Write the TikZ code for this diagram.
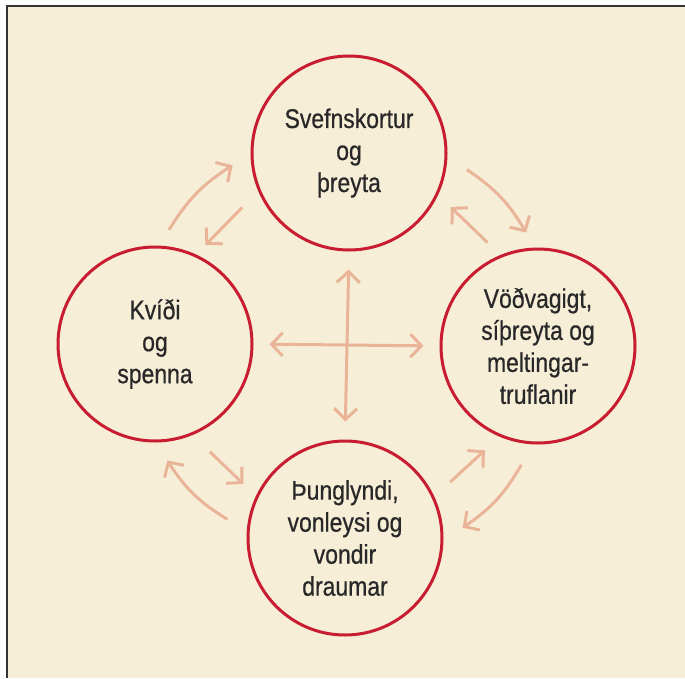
\documentclass[tikz,border=0pt]{standalone}
\usepackage{fontspec}
\setmainfont{Liberation Sans}[FakeStretch=0.85,FakeBold=0.6]
\usetikzlibrary{arrows.meta}
\usetikzlibrary{calc}
\definecolor{pagebg}{RGB}{247,238,216}
\definecolor{ringred}{RGB}{200,28,48}
\definecolor{arrowc}{RGB}{234,180,152}
\definecolor{textc}{RGB}{40,40,40}

\begin{document}
\begin{tikzpicture}[x=1pt,y=-1pt,
    >={Straight Barb[length=11pt,width=23pt]},
    ring/.style={circle,draw=ringred,line width=3pt,minimum size=194pt,
      inner sep=0pt,align=center,text=textc,
      font=\fontsize{27}{32}\selectfont},
    arr/.style={draw=arrowc,line width=3pt,->}]
    \useasboundingbox (0,0) rectangle (685,678);
    % Background
    \fill[white] (0,0) rectangle (685,678);
    \fill[pagebg] (7,6) rectangle (685,678);
    \draw[line width=2pt,black!80] (7,678) -- (7,6) -- (685,6);
    % Circles
    \node[ring] (S) at (349,153) {Svefnskortur\\og\\þreyta};
    \node[ring] (K) at (155,344) {Kvíði\\og\\spenna};
    \node[ring] (V) at (538,346) {Vöðvagigt,\\síþreyta og\\meltingar-\\truflanir};
    \node[ring] (P) at (345,538) {Þunglyndi,\\vonleysi og\\vondir\\draumar};
    % Outer arrows
    \draw[arr] ($(K)+(83:115pt)$) to[bend left=13] ($(S)+(186:117pt)$);
    \draw[arr] ($(S)+(352:119pt)$) to[bend left=13] ($(V)+(96:114pt)$);
    \draw[arr] ($(V)+(262:120pt)$) to[bend left=13] ($(P)+(5:118pt)$);
    \draw[arr] ($(P)+(171:119pt)$) to[bend left=13] ($(K)+(276:117pt)$);
    % Inner arrows
    \draw[arr] ($(S)+(207:120pt)$) -- ($(K)+(63:111pt)$);
    \draw[arr] ($(V)+(116:115pt)$) -- ($(S)+(332:115pt)$);
    \draw[arr] ($(P)+(28:119pt)$) -- ($(V)+(243:117pt)$);
    \draw[arr] ($(K)+(297:121pt)$) -- ($(P)+(152:115pt)$);
    % Cross
    \draw[arr,<->,shorten <=18pt,shorten >=18pt] (S.south) -- (P.north);
    \draw[arr,<->,shorten <=16pt,shorten >=16pt] (K.east) -- (V.west);
\end{tikzpicture}
\end{document}
